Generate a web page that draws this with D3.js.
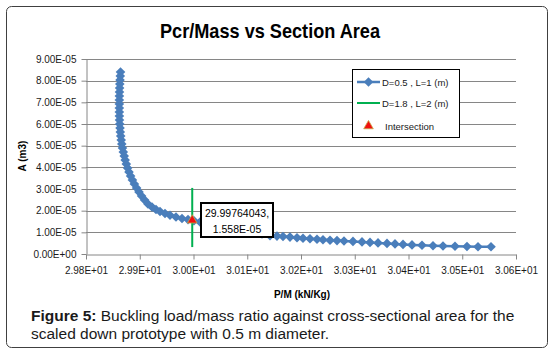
<!DOCTYPE html>
<html>
<head>
<meta charset="utf-8">
<script src="https://cdn.jsdelivr.net/npm/d3@7"></script>
<style>
body { margin: 0; background: #fff; }
text { font-family: "Liberation Sans", Arial, sans-serif; }
</style>
</head>
<body>
<div id="chart"></div>
<script>
// P/M (kN/Kg) and A (m3) for D=0.5, L=1 (m)
var pmValues = [
    29.8642, 29.8638, 29.8633, 29.8629, 29.8625, 29.8623, 29.8621, 29.8620, 29.8620, 29.8620,
    29.8620, 29.8621, 29.8623, 29.8627, 29.8633, 29.8638, 29.8646, 29.8655, 29.8666, 29.8679,
    29.8694, 29.8711, 29.8729, 29.8750, 29.8774, 29.8800, 29.8830, 29.8863, 29.8900, 29.8941,
    29.8986, 29.9034, 29.9090,
    29.9153, 29.9228, 29.9302, 29.9377, 29.9470, 29.9563, 29.9674, 29.9786, 29.9898, 30.0009,
    30.0121, 30.0251, 30.0381, 30.0530, 30.0679, 30.0828, 30.0977, 30.1126, 30.1274,
    30.1423, 30.1553, 30.1665, 30.1795, 30.1926, 30.2037, 30.2167, 30.2298, 30.2409, 30.2540,
    30.2670, 30.2800, 30.2967, 30.3135, 30.3284, 30.3433, 30.3600, 30.3749, 30.3898, 30.4065,
    30.4251, 30.4456, 30.4642, 30.4865, 30.5088, 30.5293, 30.5535
];
var areaValues = [
    8.400e-5, 8.215e-5, 8.031e-5, 7.846e-5, 7.661e-5, 7.477e-5, 7.292e-5, 7.108e-5, 6.923e-5, 6.738e-5,
    6.554e-5, 6.369e-5, 6.185e-5, 6.000e-5, 5.815e-5, 5.631e-5, 5.446e-5, 5.262e-5, 5.077e-5, 4.892e-5,
    4.708e-5, 4.523e-5, 4.338e-5, 4.154e-5, 3.969e-5, 3.785e-5, 3.600e-5, 3.415e-5, 3.231e-5, 3.046e-5,
    2.862e-5, 2.677e-5, 2.492e-5,
    2.308e-5, 2.169e-5, 2.054e-5, 1.962e-5, 1.869e-5, 1.786e-5, 1.708e-5, 1.638e-5, 1.588e-5, 1.537e-5,
    1.477e-5, 1.408e-5, 1.338e-5, 1.269e-5, 1.200e-5, 1.131e-5, 1.062e-5, 0.992e-5, 0.923e-5,
    0.840e-5, 0.826e-5, 0.808e-5, 0.780e-5, 0.752e-5, 0.725e-5, 0.702e-5, 0.678e-5, 0.655e-5, 0.637e-5,
    0.618e-5, 0.600e-5, 0.582e-5, 0.558e-5, 0.535e-5, 0.512e-5, 0.489e-5, 0.466e-5, 0.443e-5, 0.420e-5,
    0.402e-5, 0.383e-5, 0.369e-5, 0.355e-5, 0.346e-5, 0.337e-5, 0.332e-5
];

// D=1.8, L=2 (m) vertical line
var lineX = [29.99764043, 29.99764043];
var lineY = [3.05e-5, 0.32e-5];

// intersection
var interX = 29.99764043;
var interY = 1.558e-5;
var interLabel = ["29.99764043,", "1.558E-05"];

var xTicks = [29.8, 29.9, 30.0, 30.1, 30.2, 30.3, 30.4, 30.5, 30.6];
var xTickLabels = ["2.98E+01", "2.99E+01", "3.00E+01", "3.01E+01", "3.02E+01", "3.03E+01", "3.04E+01", "3.05E+01", "3.06E+01"];
var yTicks = [0, 1e-5, 2e-5, 3e-5, 4e-5, 5e-5, 6e-5, 7e-5, 8e-5, 9e-5];
var yTickLabels = ["0.00E+00", "1.00E-05", "2.00E-05", "3.00E-05", "4.00E-05", "5.00E-05", "6.00E-05", "7.00E-05", "8.00E-05", "9.00E-05"];

var legendLabels = ["D=0.5 , L=1 (m)", "D=1.8 , L=2 (m)", "Intersection"];

var W = 555, H = 355;
var plot = { left: 86, right: 516, top: 59, bottom: 254 };

var svg = d3.select('#chart').append('svg')
    .attr('width', W)
    .attr('height', H);

svg.append('rect')
    .attr('x', 6.5).attr('y', 6.5)
    .attr('width', 541).attr('height', 341)
    .attr('rx', 5)
    .attr('fill', '#fff')
    .attr('stroke', '#404040')
    .attr('stroke-width', 1);

var x = d3.scaleLinear().domain([29.8, 30.6]).range([plot.left, plot.right]);
var y = d3.scaleLinear().domain([0, 9e-5]).range([plot.bottom, plot.top]);

// gridlines
svg.append('g')
    .selectAll('line')
    .data(yTicks.slice(1))
    .enter()
    .append('line')
    .attr('x1', plot.left)
    .attr('x2', plot.right)
    .attr('y1', d => Math.round(y(d)) + 0.5)
    .attr('y2', d => Math.round(y(d)) + 0.5)
    .attr('stroke', '#868686')
    .attr('stroke-width', 1);

// axes
var xAxis = d3.axisBottom(x)
    .tickValues(xTicks)
    .tickFormat((d, i) => xTickLabels[i])
    .tickSize(5)
    .tickSizeOuter(0)
    .tickPadding(7);

var yAxis = d3.axisLeft(y)
    .tickValues(yTicks)
    .tickFormat((d, i) => yTickLabels[i])
    .tickSize(5)
    .tickSizeOuter(0)
    .tickPadding(5);

var gx = svg.append('g')
    .attr('transform', 'translate(0,' + (plot.bottom + 0.5) + ')')
    .call(xAxis);
var gy = svg.append('g')
    .attr('transform', 'translate(' + (plot.left + 0.5) + ',0)')
    .call(yAxis);

[gx, gy].forEach(g => {
    g.select('.domain').attr('stroke', '#868686');
    g.selectAll('.tick line').attr('stroke', '#868686');
    g.selectAll('.tick text')
        .attr('fill', '#1a1a1a')
        .style('font-size', '10px');
});

// axis titles
svg.append('text')
    .attr('x', 302)
    .attr('y', 298)
    .attr('text-anchor', 'middle')
    .style('font-size', '10px')
    .style('font-weight', 'bold')
    .text('P/M (kN/Kg)');

svg.append('text')
    .attr('transform', 'translate(26,156) rotate(-90)')
    .attr('text-anchor', 'middle')
    .style('font-size', '10px')
    .style('font-weight', 'bold')
    .text('A (m3)');

// title
svg.append('text')
    .attr('x', 270)
    .attr('y', 38)
    .attr('text-anchor', 'middle')
    .attr('textLength', 220)
    .attr('lengthAdjust', 'spacingAndGlyphs')
    .style('font-size', '21px')
    .style('font-weight', 'bold')
    .text('Pcr/Mass vs Section Area');

// blue series
var pts = pmValues.map((d, i) => [d, areaValues[i]]);
var blue = '#4A7EBB';

svg.append('path')
    .datum(pts)
    .attr('fill', 'none')
    .attr('stroke', blue)
    .attr('stroke-width', 2.5)
    .attr('d', d3.line().x(d => x(d[0])).y(d => y(d[1])));

var diamond = d3.symbol().type(d3.symbolSquare).size(46);

svg.append('g')
    .selectAll('path')
    .data(pts)
    .enter()
    .append('path')
    .attr('d', diamond)
    .attr('transform', d => 'translate(' + x(d[0]) + ',' + y(d[1]) + ') rotate(45)')
    .attr('fill', blue);

// green line
svg.append('line')
    .attr('x1', x(lineX[0])).attr('y1', y(lineY[0]))
    .attr('x2', x(lineX[1])).attr('y2', y(lineY[1]))
    .attr('stroke', '#00B050')
    .attr('stroke-width', 2);

// intersection marker
var tri = d3.symbol().type(d3.symbolTriangle).size(40);
svg.append('path')
    .attr('d', tri)
    .attr('transform', 'translate(' + x(interX) + ',' + y(interY) + ')')
    .attr('fill', '#F01010')
    .attr('stroke', '#C8A848')
    .attr('stroke-width', 0.8);

// data label
var lab = svg.append('g');
lab.append('rect')
    .attr('x', 201).attr('y', 203)
    .attr('width', 72).attr('height', 34)
    .attr('fill', '#fff')
    .attr('stroke', '#000')
    .attr('stroke-width', 2);
lab.selectAll('text')
    .data(interLabel)
    .enter()
    .append('text')
    .attr('x', 237)
    .attr('y', (d, i) => 217 + i * 16)
    .attr('text-anchor', 'middle')
    .style('font-size', '10.5px')
    .text(d => d);

// legend
var lg = svg.append('g');
lg.append('rect')
    .attr('x', 352.5).attr('y', 69.5)
    .attr('width', 107).attr('height', 68)
    .attr('fill', '#fff')
    .attr('stroke', '#000')
    .attr('stroke-width', 1);

var rows = [82, 103, 126];
lg.append('line')
    .attr('x1', 357).attr('x2', 380).attr('y1', rows[0]).attr('y2', rows[0])
    .attr('stroke', blue).attr('stroke-width', 2.5);
lg.append('path')
    .attr('d', diamond)
    .attr('transform', 'translate(368.5,' + rows[0] + ') rotate(45)')
    .attr('fill', blue);
lg.append('line')
    .attr('x1', 357).attr('x2', 380).attr('y1', rows[1]).attr('y2', rows[1])
    .attr('stroke', '#00B050').attr('stroke-width', 2);
lg.append('path')
    .attr('d', tri)
    .attr('transform', 'translate(368.5,' + rows[2] + ')')
    .attr('fill', '#F01010')
    .attr('stroke', '#C8A848')
    .attr('stroke-width', 0.8);

lg.selectAll('text')
    .data(legendLabels)
    .enter()
    .append('text')
    .attr('x', (d, i) => i == 2 ? 385 : 382)
    .attr('y', (d, i) => rows[i] + 3.5)
    .style('font-size', '9.5px')
    .attr('fill', '#1a1a1a')
    .text(d => d);

// caption
var cap1 = svg.append('text')
    .attr('x', 31)
    .attr('y', 321)
    .style('font-size', '15.5px')
    .attr('fill', '#1a1a1a');
cap1.append('tspan').style('font-weight', 'bold').text('Figure 5:');
cap1.append('tspan').text(' Buckling load/mass ratio against cross-sectional area for the');

svg.append('text')
    .attr('x', 31)
    .attr('y', 339)
    .style('font-size', '15.5px')
    .attr('fill', '#1a1a1a')
    .text('scaled down prototype with 0.5 m diameter.');
</script>
</body>
</html>
